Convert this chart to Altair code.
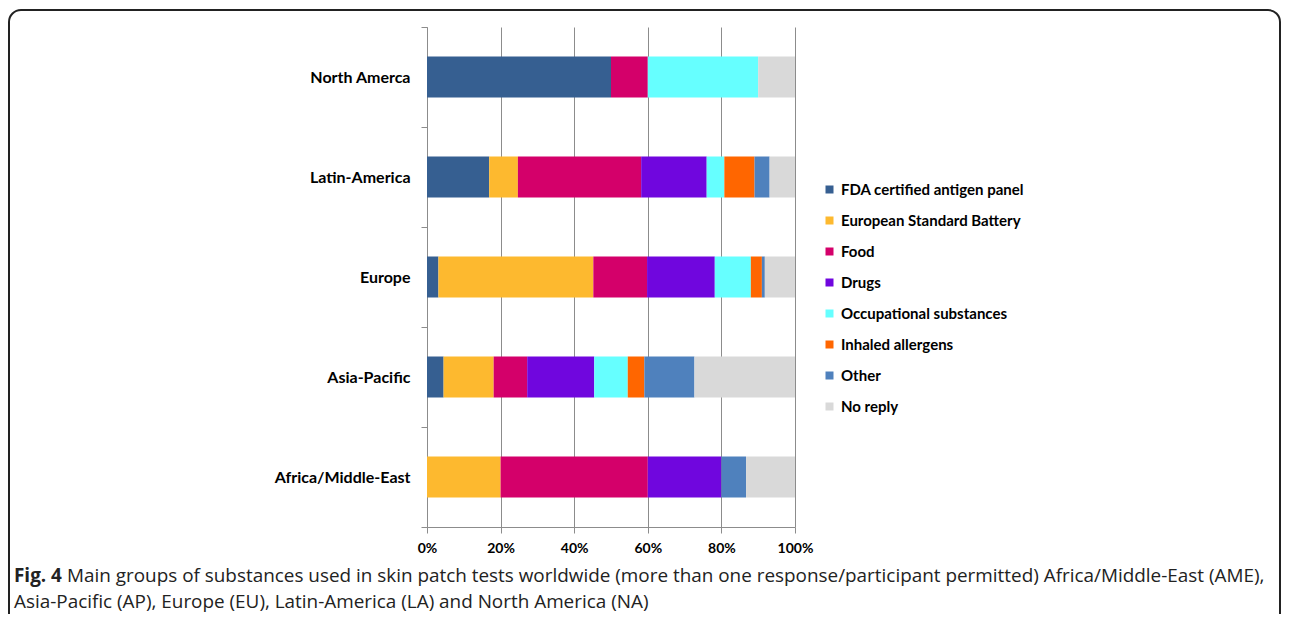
import altair as alt
import pandas as pd

regions = ["North Amerca", "Latin-America", "Europe", "Asia-Pacific", "Africa/Middle-East"]
series = ["FDA certified antigen panel", "European Standard Battery", "Food", "Drugs",
          "Occupational substances", "Inhaled allergens", "Other", "No reply"]
colors = ["#365F91", "#FDB92F", "#D4006A", "#7006DE", "#66FFFF", "#FF6600", "#4F81BD", "#D9D9D9"]

fda = [50.0, 16.9, 3.1, 4.5, 0.0]
esb = [0.0, 7.8, 42.1, 13.6, 20.0]
food = [10.0, 33.5, 14.6, 9.1, 40.0]
drugs = [0.0, 17.8, 18.4, 18.2, 20.0]
occupational = [30.0, 4.8, 9.8, 9.1, 0.0]
inhaled = [0.0, 8.2, 3.0, 4.5, 0.0]
other = [0.0, 4.1, 0.8, 13.6, 6.7]
no_reply = [10.0, 6.9, 8.2, 27.3, 13.3]

x_ticks = [0, 0.2, 0.4, 0.6, 0.8, 1.0]

caption_bold = "Fig. 4"
caption_line1 = ("Main groups of substances used in skin patch tests worldwide "
                 "(more than one response/participant permitted) Africa/Middle-East (AME),")
caption_line2 = "Asia-Pacific (AP), Europe (EU), Latin-America (LA) and North America (NA)"

values = [fda, esb, food, drugs, occupational, inhaled, other, no_reply]
rows = []
for si, (s, vals) in enumerate(zip(series, values)):
    for r, v in zip(regions, vals):
        if v > 0:
            rows.append({"region": r, "group": s, "value": v, "order": si})
df = pd.DataFrame(rows)

W, H = 368, 500
GRID = "#8c8c8c"
FONT = "Lato"
CAP_FONT = "Open Sans"
CAP_SIZE = 18.9

bars = alt.Chart(df).mark_bar(size=41).encode(
    y=alt.Y("region:N", sort=regions,
            scale=alt.Scale(paddingInner=0, paddingOuter=0),
            axis=alt.Axis(title=None, tickBand="extent", grid=False, domainColor=GRID,
                          tickColor=GRID, tickSize=6, labelPadding=11,
                          labelFont=FONT, labelFontSize=16, labelFontWeight="bold",
                          labelColor="#000", labelLimit=300)),
    x=alt.X("value:Q", stack="normalize",
            scale=alt.Scale(domain=[0, 1], nice=False),
            axis=alt.Axis(title=None, values=x_ticks, format=".0%", grid=True,
                          gridColor=GRID, gridOpacity=1, domainColor=GRID, tickColor=GRID,
                          tickSize=6, labelPadding=8, labelFlush=False, labelFont=FONT,
                          labelFontSize=14, labelFontWeight="bold", labelColor="#000")),
    color=alt.Color("group:N", sort=series,
                    scale=alt.Scale(domain=series, range=colors),
                    legend=alt.Legend(title=None, orient="none", legendX=395, legendY=155,
                                      symbolType="square", symbolSize=64, symbolStrokeWidth=0,
                                      labelFont=FONT, labelFontSize=15, labelFontWeight="bold",
                                      labelColor="#000", rowPadding=15, labelOffset=4,
                                      labelLimit=0, padding=0)),
    order=alt.Order("order:Q", sort="ascending"),
)

one = alt.Data(values=[{"k": 1}])

border = alt.Chart(one).mark_rect(
    fillOpacity=0, stroke="#222", strokeWidth=2, cornerRadius=12
).encode(x=alt.value(-418), x2=alt.value(853), y=alt.value(-17), y2=alt.value(700))

cap_b = alt.Chart(one).mark_text(
    align="left", baseline="alphabetic", font=CAP_FONT, fontSize=CAP_SIZE,
    fontWeight="bold", color="#222"
).encode(x=alt.value(-413), y=alt.value(555), text=alt.value(caption_bold))

cap_1 = alt.Chart(one).mark_text(
    align="left", baseline="alphabetic", font=CAP_FONT, fontSize=CAP_SIZE, color="#222"
).encode(x=alt.value(-360), y=alt.value(555), text=alt.value(caption_line1))

cap_2 = alt.Chart(one).mark_text(
    align="left", baseline="alphabetic", font=CAP_FONT, fontSize=CAP_SIZE, color="#222"
).encode(x=alt.value(-413), y=alt.value(581), text=alt.value(caption_line2))

chart = alt.layer(border, bars, cap_b, cap_1, cap_2).properties(
    width=W, height=H,
    autosize=alt.AutoSizeParams(type="none"),
    padding={"left": 419, "top": 19, "right": 486, "bottom": 87},
).configure_view(stroke=None)

chart.save("out.html", embed_options={"renderer": "svg", "actions": False})
